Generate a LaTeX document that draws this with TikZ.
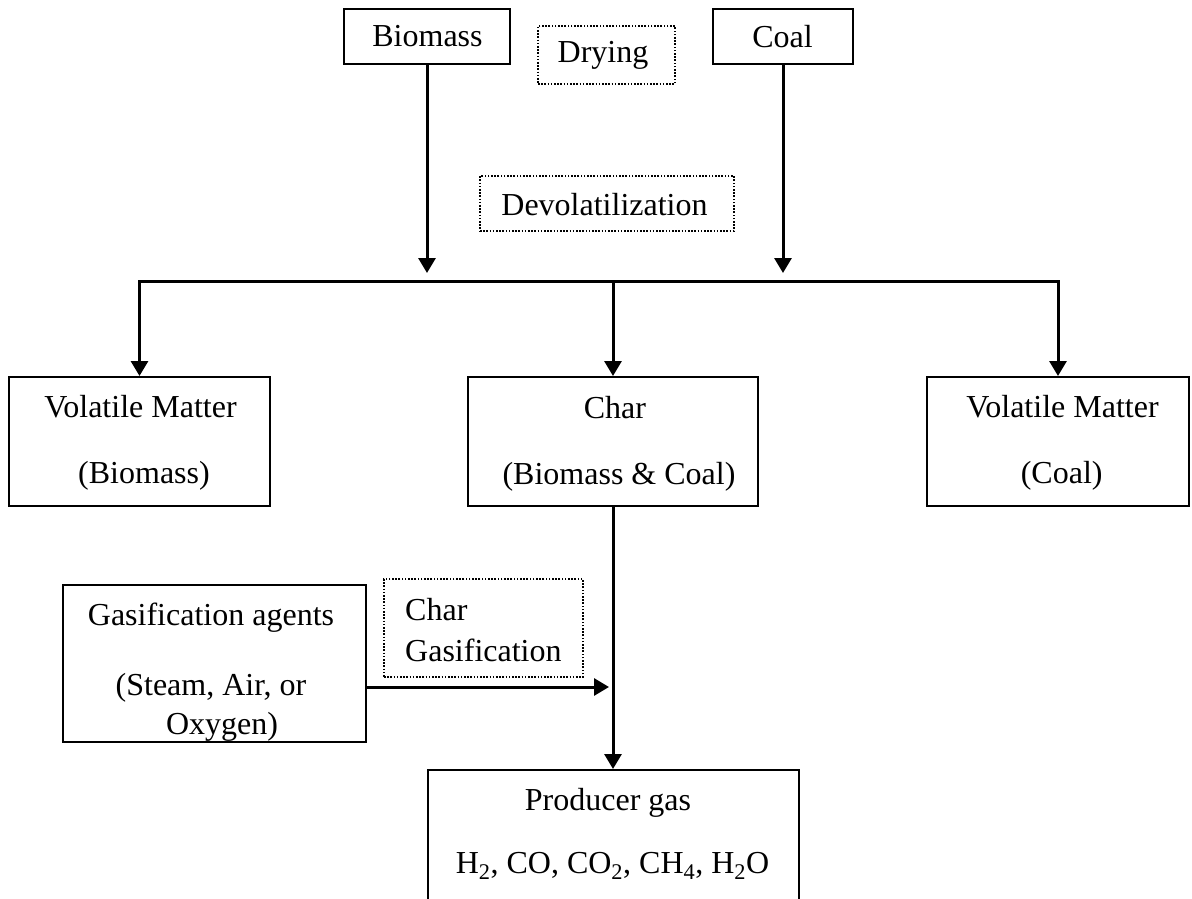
\documentclass[tikz,border=0pt]{standalone}
\usepackage{fontspec}
\setmainfont{Liberation Serif}
\usetikzlibrary{arrows.meta}
\begin{document}
\begin{tikzpicture}[x=1pt,y=-1pt,
  box/.style={draw, line width=2pt, rectangle, inner sep=0pt},
  dotbox/.style={draw, line width=1.6pt, dash pattern=on 1.6pt off 1.6pt, rectangle, inner sep=0pt},
  txt/.style={font=\fontsize{32pt}{38pt}\selectfont, inner sep=0pt, anchor=base},
  conn/.style={line width=3pt, line join=miter},
  arr/.style={conn, -{Triangle[width=17pt,length=15pt]}}]
\useasboundingbox (0,0) rectangle (1192,899);
\clip (0,0) rectangle (1192,899);

% boxes
\node[box, minimum width=166pt, minimum height=55pt] (bio) at (427,36.5) {};
\node[box, minimum width=140pt, minimum height=55pt] (coal) at (783,36.5) {};
\node[dotbox, minimum width=137pt, minimum height=58pt] (dry) at (606.5,55) {};
\node[dotbox, minimum width=254pt, minimum height=55pt] (devol) at (607,203.5) {};
\node[box, minimum width=261pt, minimum height=129pt] (vmb) at (139.5,441.5) {};
\node[box, minimum width=290pt, minimum height=129pt] (char) at (613,441.5) {};
\node[box, minimum width=262pt, minimum height=129pt] (vmc) at (1058,441.5) {};
\node[box, minimum width=303pt, minimum height=157pt] (ga) at (214.5,663.5) {};
\node[dotbox, minimum width=199pt, minimum height=98pt] (cg) at (483.5,628) {};
\node[box, minimum width=371pt, minimum height=160pt] (pg) at (613,850) {};

% texts
\node[txt] (biot) at (427.5,47) {Biomass};
\node[txt] (coalt) at (782.5,48) {Coal};
\node[txt] (dryt) at (603,63) {Drying};
\node[txt] (devolt) at (604.5,215) {Devolatilization};
\node[txt] (vmb1) at (140.5,417) {Volatile Matter};
\node[txt] (vmb2) at (144,483) {(Biomass)};
\node[txt] (char1) at (615,418) {Char};
\node[txt] (char2) at (619,484) {(Biomass \& Coal)};
\node[txt] (vmc1) at (1062.5,417) {Volatile Matter};
\node[txt] (vmc2) at (1061.7,483) {(Coal)};
\node[txt] (ga1) at (211,625) {Gasification agents};
\node[txt] (ga2) at (211,695) {(Steam, Air, or};
\node[txt] (ga3) at (222,734) {Oxygen)};
\node[txt, anchor=base west] (cg1) at (405,620) {Char};
\node[txt, anchor=base west] (cg2) at (405,661) {Gasification};
\node[txt] (pg1) at (608,810) {Producer gas};
\node[txt] (pg2) at (612.5,873) {H\textsubscript{2}, CO, CO\textsubscript{2}, CH\textsubscript{4}, H\textsubscript{2}O};

% connectors
\coordinate (bioj) at (427,273);
\coordinate (coalj) at (783,273);
\coordinate (hl) at (613,281);
\coordinate (gaj) at (609,687);
\draw[arr] (bio.south) -- (bioj);
\draw[arr] (coal.south) -- (coalj);
\draw[arr] (hl) -| (vmb.north);
\draw[arr] (hl) -| (vmc.north);
\draw[arr] (hl) -- (char.north);
\draw[arr] (char.south) -- (char.south |- pg.north);
\draw[arr] (ga.east |- gaj) -- (gaj);
\end{tikzpicture}
\end{document}
